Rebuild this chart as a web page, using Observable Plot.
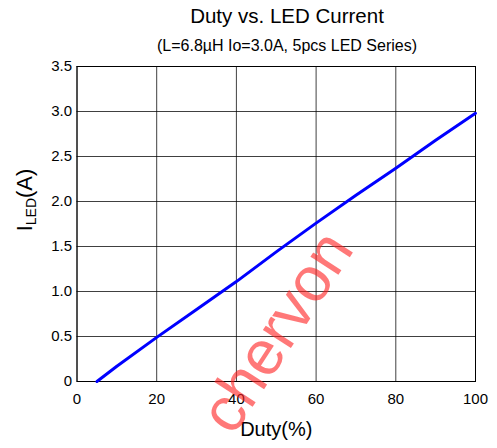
<!DOCTYPE html>
<html>
<head>
<meta charset="utf-8">
<script src="https://cdn.jsdelivr.net/npm/d3@7"></script>
<script src="https://cdn.jsdelivr.net/npm/@observablehq/plot@0.6"></script>
<style>
  html, body { margin: 0; padding: 0; background: #fff; }
  #wrap { position: relative; width: 497px; height: 448px; overflow: hidden; font-family: "Liberation Sans", Arial, sans-serif; }
  .title { position: absolute; left: 0; width: 574px; text-align: center; color: #000; white-space: nowrap; }
  #t1 { top: 4px; font-size: 20.5px; }
  #t2 { top: 37px; font-size: 16px; }
  #ylab { position: absolute; left: 25px; top: 200px; transform: translate(-50%, -50%) rotate(-90deg); font-size: 22px; white-space: nowrap; }
  #ylab sub { font-size: 14px; vertical-align: -4px; }
</style>
</head>
<body>
<div id="wrap">
  <div class="title" id="t1">Duty vs. LED Current</div>
  <div class="title" id="t2">(L=6.8µH Io=3.0A, 5pcs LED Series)</div>
  <div id="ylab">I<sub>LED</sub>(A)</div>
  <div id="chart"></div>
</div>
<script>
const duty = [5, 10, 20, 30, 40, 50, 60, 70, 80, 90, 100];
const current = [0, 0.17, 0.49, 0.80, 1.11, 1.44, 1.76, 2.07, 2.37, 2.68, 2.98];
const xTicks = [0, 20, 40, 60, 80, 100];
const yTicks = [0, 0.5, 1.0, 1.5, 2.0, 2.5, 3.0, 3.5];
const watermark = ["chervon"];

const data = duty.map((d, i) => ({duty: d, current: current[i]}));

const chart = Plot.plot({
  width: 497,
  height: 448,
  marginTop: 66,
  marginBottom: 67,
  marginLeft: 76.5,
  marginRight: 22,
  style: {fontFamily: '"Liberation Sans", Arial, sans-serif', background: "transparent", color: "#000"},
  x: {domain: [0, 100], ticks: xTicks, label: null},
  y: {domain: [0, 3.5], ticks: yTicks, label: null},
  marks: [
    Plot.gridX(xTicks, {stroke: "#000", strokeOpacity: 0.75, strokeWidth: 1}),
    Plot.gridY(yTicks, {stroke: "#000", strokeOpacity: 0.75, strokeWidth: 1}),
    Plot.frame({stroke: "#000", strokeWidth: 1}),
    Plot.axisX({ticks: xTicks, tickSize: 0, tickPadding: 12, fontSize: 15, label: "Duty(%)", labelAnchor: "center", labelArrow: "none", labelOffset: 54}),
    Plot.axisY({ticks: yTicks, tickSize: 0, tickPadding: 5, fontSize: 15, label: null, tickFormat: d => d === 0 ? "0" : d.toFixed(1)}),
    Plot.line(data, {x: "duty", y: "current", stroke: "#0000ff", strokeWidth: 3}),
    Plot.text(watermark, {text: d => d, frameAnchor: "middle", dx: 1, dy: 108, rotate: -57, fontSize: 63, fill: "#ff1e1e", fillOpacity: 0.6})
  ]
});
document.getElementById("chart").appendChild(chart);
d3.select(chart).selectAll("text").filter(function() { return this.textContent === "Duty(%)"; }).style("font-size", "20px");
</script>
</body>
</html>
